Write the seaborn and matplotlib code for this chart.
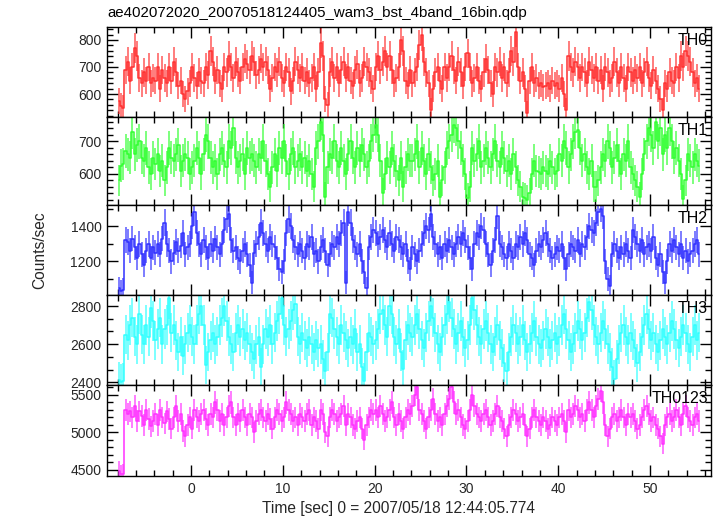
import numpy as np
import pandas as pd
import matplotlib
matplotlib.use("Agg")
import matplotlib.pyplot as plt
from matplotlib.ticker import MultipleLocator
import seaborn as sns

sns.set_theme(style="ticks")
plt.rcParams['font.family'] = ['Liberation Sans', 'DejaVu Sans']

title = "ae402072020_20070518124405_wam3_bst_4band_16bin.qdp"
xlabel = "Time [sec] 0 = 2007/05/18 12:44:05.774"
ylabel = "Counts/sec"
panel_names = ["TH0", "TH1", "TH2", "TH3", "TH0123"]
t_start = -8.0
bin_width = 0.25

th0 = [575, 555, 550, 690, 720, 650, 700, 770, 740, 660, 640, 680, 650, 700, 640, 660,
       650, 700, 620, 690, 660, 640, 700, 650, 720, 680, 630, 650, 600, 580, 610, 640,
       700, 660, 630, 680, 650, 640, 700, 670, 760, 720, 650, 690, 640, 620, 700, 680,
       740, 700, 660, 720, 680, 650, 700, 730, 710, 690, 740, 720, 670, 690, 730, 700,
       720, 690, 620, 660, 700, 680, 720, 660, 640, 700, 680, 610, 650, 720, 690, 660,
       700, 650, 680, 640, 660, 700, 620, 680, 790, 740, 580, 560, 680, 720, 660, 700,
       640, 690, 720, 660, 700, 650, 630, 690, 710, 640, 660, 720, 700, 680, 650, 620,
       700, 740, 690, 720, 760, 700, 740, 690, 640, 660, 700, 800, 760, 650, 630, 690,
       640, 680, 700, 780, 818, 720, 680, 640, 540, 620, 680, 700, 650, 620, 700, 660,
       700, 740, 690, 650, 720, 680, 630, 700, 750, 700, 640, 660, 700, 650, 620, 680,
       730, 690, 640, 600, 700, 680, 720, 660, 700, 640, 680, 760, 720, 830, 700, 650,
       680, 620, 530, 650, 700, 640, 660, 630, 640, 625, 630, 640, 620, 650, 630, 640,
       620, 660, 600, 540, 740, 700, 680, 720, 700, 660, 700, 680, 640, 720, 690, 660,
       700, 650, 690, 620, 700, 680, 640, 660, 720, 680, 640, 700, 660, 620, 700, 680,
       650, 690, 660, 700, 640, 680, 720, 660, 630, 690, 650, 620, 580, 540, 640, 620,
       680, 650, 640, 700, 660, 740, 700, 760, 740, 720, 680, 640, 660, 620]

th1 = [580, 625, 630, 670, 660, 650, 730, 660, 690, 700, 650, 640, 680, 620, 600, 650,
       630, 660, 610, 640, 580, 620, 680, 650, 640, 660, 690, 610, 640, 660, 650, 600,
       620, 640, 680, 650, 600, 660, 720, 700, 650, 620, 640, 600, 660, 680, 640, 620,
       700, 680, 740, 650, 620, 640, 660, 600, 680, 650, 660, 640, 620, 660, 650, 700,
       640, 600, 560, 620, 660, 610, 680, 650, 700, 640, 600, 660, 680, 620, 640, 660,
       620, 650, 610, 640, 600, 560, 680, 700, 760, 720, 530, 620, 660, 650, 700, 640,
       620, 680, 640, 600, 660, 700, 650, 620, 680, 640, 690, 660, 620, 640, 700, 720,
       750, 720, 640, 540, 600, 650, 620, 680, 640, 610, 580, 650, 560, 620, 660, 640,
       640, 660, 700, 620, 680, 640, 600, 660, 620, 580, 600, 640, 530, 580, 620, 680,
       700, 720, 750, 740, 700, 680, 640, 600, 525, 560, 680, 640, 660, 700, 620, 640,
       680, 650, 620, 660, 700, 640, 620, 680, 650, 610, 640, 600, 660, 620, 580, 560,
       530, 525, 520, 540, 600, 640, 610, 605, 600, 620, 610, 600, 640, 620, 600, 610,
       660, 640, 700, 680, 620, 660, 700, 730, 735, 680, 640, 660, 620, 600, 640, 560,
       560, 580, 620, 660, 640, 700, 680, 620, 650, 690, 640, 600, 660, 640, 700, 620,
       600, 580, 560, 530, 600, 660, 700, 740, 720, 680, 760, 700, 740, 660, 720, 680,
       740, 700, 650, 680, 640, 600, 521, 580, 660, 640, 620, 660, 640, 625]

th2 = [1050, 1030, 1040, 1320, 1310, 1260, 1330, 1280, 1220, 1300, 1240, 1180, 1260, 1300, 1220, 1280,
       1250, 1300, 1240, 1330, 1420, 1300, 1260, 1200, 1250, 1310, 1260, 1290, 1360, 1240, 1280, 1300,
       1400, 1480, 1360, 1300, 1240, 1320, 1280, 1220, 1300, 1260, 1330, 1280, 1240, 1300, 1380, 1440,
       1470, 1320, 1260, 1280, 1220, 1200, 1260, 1300, 1240, 1180, 1080, 1250, 1300, 1340, 1420, 1360,
       1300, 1260, 1340, 1300, 1280, 1220, 1160, 1140, 1200, 1360, 1440, 1400, 1320, 1280, 1240, 1300,
       1260, 1220, 1300, 1280, 1340, 1240, 1260, 1200, 1280, 1320, 1260, 1180, 1240, 1300, 1280, 1340,
       1300, 1360, 1420, 1080, 1480, 1420, 1320, 1280, 1240, 1300, 1200, 1140, 1050, 1280, 1340, 1380,
       1360, 1300, 1340, 1380, 1320, 1280, 1360, 1300, 1260, 1340, 1320, 1280, 1240, 1300, 1200, 1160,
       1280, 1240, 1200, 1260, 1300, 1360, 1400, 1380, 1470, 1340, 1300, 1240, 1280, 1220, 1300, 1260,
       1320, 1280, 1240, 1300, 1340, 1300, 1360, 1320, 1280, 1220, 1160, 1300, 1360, 1340, 1400, 1380,
       1300, 1240, 1180, 1260, 1320, 1460, 1300, 1280, 1240, 1220, 1300, 1260, 1220, 1300, 1280, 1340,
       1300, 1360, 1320, 1240, 1220, 1180, 1260, 1300, 1280, 1320, 1360, 1300, 1260, 1220, 1240, 1280,
       1260, 1300, 1220, 1160, 1240, 1300, 1280, 1260, 1320, 1240, 1300, 1280, 1340, 1400, 1380, 1360,
       1420, 1480, 1500, 1460, 1200, 1100, 1060, 1240, 1300, 1260, 1220, 1280, 1240, 1300, 1260, 1220,
       1380, 1340, 1300, 1260, 1320, 1240, 1280, 1300, 1260, 1340, 1220, 1180, 1240, 1140, 1080, 1200,
       1300, 1260, 1320, 1280, 1240, 1300, 1220, 1260, 1200, 1240, 1260, 1300, 1320, 1240]

th3 = [2410, 2400, 2405, 2650, 2620, 2700, 2740, 2640, 2600, 2760, 2650, 2600, 2700, 2640, 2790, 2720,
       2620, 2680, 2740, 2600, 2680, 2700, 2840, 2660, 2700, 2620, 2560, 2640, 2540, 2600, 2660, 2700,
       2640, 2600, 2700, 2760, 2800, 2700, 2490, 2560, 2620, 2660, 2600, 2640, 2700, 2740, 2800, 2720,
       2640, 2600, 2560, 2660, 2700, 2640, 2680, 2620, 2660, 2600, 2560, 2520, 2600, 2640, 2480, 2600,
       2680, 2640, 2700, 2600, 2660, 2720, 2760, 2840, 2700, 2640, 2680, 2720, 2780, 2810, 2640, 2600,
       2660, 2620, 2580, 2640, 2600, 2560, 2620, 2580, 2600, 2520, 2460, 2560, 2760, 2740, 2680, 2640,
       2600, 2700, 2660, 2620, 2580, 2640, 2600, 2680, 2560, 2600, 2480, 2405, 2560, 2660, 2640, 2600,
       2620, 2680, 2760, 2780, 2700, 2640, 2800, 2760, 2640, 2600, 2680, 2560, 2470, 2620, 2700, 2660,
       2640, 2700, 2760, 2680, 2620, 2580, 2660, 2720, 2800, 2740, 2660, 2600, 2560, 2640, 2700, 2760,
       2820, 2740, 2680, 2600, 2660, 2720, 2640, 2580, 2620, 2700, 2840, 2780, 2700, 2640, 2600, 2680,
       2720, 2660, 2600, 2560, 2640, 2700, 2620, 2580, 2500, 2460, 2560, 2640, 2700, 2660, 2600, 2640,
       2700, 2620, 2560, 2600, 2660, 2720, 2640, 2600, 2580, 2620, 2680, 2640, 2580, 2620, 2660, 2600,
       2640, 2700, 2760, 2680, 2620, 2560, 2600, 2660, 2720, 2680, 2620, 2660, 2740, 2820, 2780, 2700,
       2640, 2600, 2660, 2720, 2680, 2600, 2560, 2480, 2420, 2520, 2600, 2660, 2700, 2640, 2600, 2660,
       2620, 2580, 2500, 2560, 2640, 2700, 2760, 2680, 2620, 2660, 2600, 2560, 2620, 2680, 2640, 2600,
       2660, 2720, 2680, 2620, 2580, 2640, 2700, 2660, 2600, 2560, 2640, 2700, 2620, 2660]

th0123 = [4480, 4440, 4450, 5300, 5250, 5280, 5200, 5350, 5150, 5280, 5220, 5100, 5300, 5180, 5080, 5150,
          5250, 5100, 5300, 5200, 5120, 5280, 5180, 5050, 5200, 5350, 5150, 5250, 5020, 4950, 5100, 5200,
          5050, 5300, 5200, 5150, 5250, 5300, 5180, 5100, 5250, 5200, 5400, 5300, 5150, 5250, 5100, 5200,
          5350, 5400, 5200, 5100, 5250, 5150, 5300, 5200, 5100, 5250, 5200, 5000, 5150, 5250, 5300, 5200,
          5150, 5250, 5180, 5050, 5200, 5300, 5250, 5150, 5200, 5400, 5300, 5250, 5150, 5200, 5100, 5250,
          5200, 5150, 5250, 5300, 5100, 5200, 5150, 5050, 5300, 5250, 5000, 4950, 5200, 5300, 5250, 5150,
          5200, 5250, 5350, 5100, 5250, 5200, 5100, 5050, 5150, 5200, 5050, 4900, 5100, 5200, 5300, 5250,
          5300, 5200, 5350, 5250, 5150, 5200, 5300, 5400, 5200, 5100, 5250, 5150, 5050, 5200, 5300, 5250,
          5350, 5500, 5600, 5300, 5250, 5150, 5050, 5200, 5300, 5450, 5250, 5150, 5200, 5100, 5250, 5350,
          5450, 5600, 5400, 5250, 5300, 5200, 5100, 5050, 5150, 5300, 5500, 5350, 5250, 5200, 5150, 5250,
          5300, 5200, 5100, 5150, 5250, 5350, 5200, 5150, 5050, 4950, 5100, 5200, 5300, 5250, 5150, 5200,
          5250, 5100, 4950, 5050, 5200, 5300, 5200, 5150, 5100, 5200, 5150, 5050, 5100, 5200, 5150, 5100,
          5200, 5250, 5150, 5000, 5300, 5200, 5250, 5350, 5300, 5200, 5250, 5150, 5300, 5400, 5300, 5200,
          5350, 5450, 5550, 5400, 5100, 4950, 5050, 5200, 5250, 5150, 5200, 5300, 5200, 5100, 5250, 5200,
          5250, 5150, 5050, 5100, 5200, 5300, 5350, 5250, 5150, 5200, 5100, 5050, 4950, 4850, 5100, 5200,
          5250, 5150, 5200, 5300, 5200, 5100, 5250, 5350, 5200, 5150, 5100, 5200, 5250, 5150]

series = [th0, th1, th2, th3, th0123]
colors = ["#ff3030", "#30ff30", "#3030ff", "#30ffff", "#ff30ff"]
ylims = [(515, 848), (504, 775), (1010, 1520), (2386, 2858), (4420, 5633)]
ymajor = [100, 100, 200, 200, 500]
yminor = [20, 20, 100, 200 / 3, 100]

W, H = 717, 516
fig = plt.figure(figsize=(W / 100, H / 100), dpi=100)
left_px, right_px = 107, 711
edges_px = [27, 117, 205, 295, 385, 476]
xlim = (-9.15, 56.64)

for i, (vals, col, name) in enumerate(zip(series, colors, panel_names)):
    top, bot = edges_px[i], edges_px[i + 1]
    ax = fig.add_axes([left_px / W, 1 - bot / H, (right_px - left_px) / W, (bot - top) / H])
    v = np.asarray(vals, dtype=float)
    t = t_start + bin_width * (np.arange(len(v)) + 0.5)
    err = np.sqrt(v / bin_width)
    df = pd.DataFrame({"t": t, "rate": v})
    ax.vlines(t, v - err, v + err, color=col, lw=1.1, alpha=0.8)
    sns.lineplot(data=df, x="t", y="rate", ax=ax, color=col, lw=1.1,
                 drawstyle="steps-mid", errorbar=None)
    ax.set_xlim(*xlim)
    ax.set_ylim(*ylims[i])
    ax.xaxis.set_major_locator(MultipleLocator(10))
    ax.xaxis.set_minor_locator(MultipleLocator(2))
    ax.yaxis.set_major_locator(MultipleLocator(ymajor[i]))
    ax.yaxis.set_minor_locator(MultipleLocator(yminor[i]))
    ax.tick_params(which="both", direction="in", top=True, right=True,
                   color="black", width=1.0)
    ax.tick_params(which="major", length=8, labelsize=10, pad=4)
    ax.tick_params(which="minor", length=4)
    ax.set_xlabel("")
    ax.set_ylabel("")
    if i < 4:
        ax.tick_params(labelbottom=False)
    for s in ax.spines.values():
        s.set_color("black")
        s.set_linewidth(1.0)
    ax.text(0.995, 0.93, name, transform=ax.transAxes, ha="right", va="top",
            fontsize=11.5, color="black")

fig.text(left_px / W, 1 - 13 / H, title, ha="left", va="center", fontsize=10.8, color="black")
fig.text(40 / W, 1 - 250 / H, ylabel, rotation=90, ha="center", va="center", fontsize=11.2)
fig.text(398 / W, 1 - 508 / H, xlabel, ha="center", va="center", fontsize=11.2)

fig.savefig("out.png", dpi=100, facecolor="white")
